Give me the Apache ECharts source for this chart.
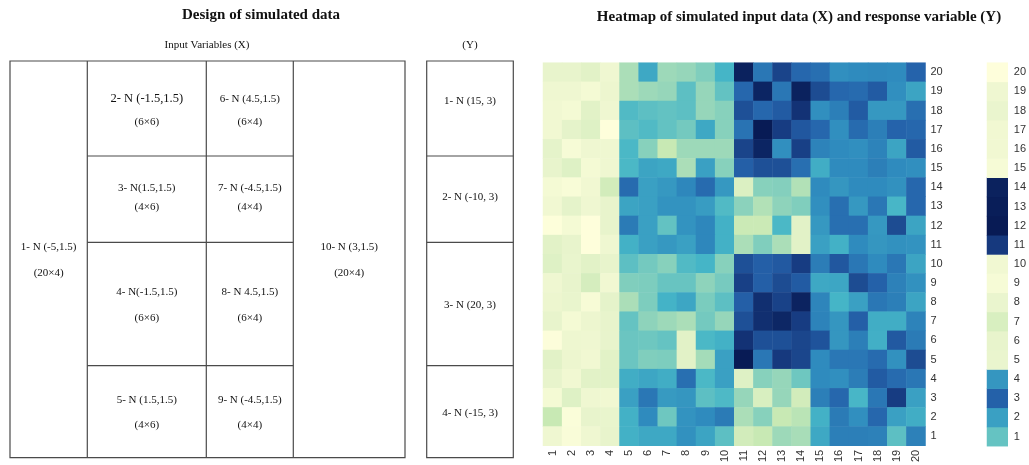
<!DOCTYPE html>
<html>
<head>
<meta charset="utf-8">
<script src="https://cdn.jsdelivr.net/npm/echarts@6/dist/echarts.min.js"></script>
<style>
html,body{margin:0;padding:0;background:#fff;}
#chart{width:1029px;height:465px;}
</style>
</head>
<body>
<div id="chart"></div>
<script>
// ---- DATA ----
var xCategories = ['1','2','3','4','5','6','7','8','9','10','11','12','13','14','15','16','17','18','19','20'];
var yCategories = ['1','2','3','4','5','6','7','8','9','10','11','12','13','14','15','16','17','18','19','20'];
// colour level (0 = palest, 8 = darkest) read from each cell; rows listed from row 20 (top) down to row 1
var row20 = [1.0,1.0,1.2,0.7,2.4,4.3,2.6,2.7,3.0,4.0, 7.8,5.5,6.8,5.9,5.7,4.9,5.0,5.05,5.0,6.0];
var row19 = [0.7,0.7,0.5,0.8,2.4,2.6,2.7,3.6,2.7,3.5, 5.9,7.7,5.5,7.8,6.6,5.9,5.8,6.2,4.9,4.4];
var row18 = [0.6,0.5,1.2,0.7,3.8,3.6,3.5,3.6,2.7,2.9, 6.5,5.9,6.2,7.3,4.9,5.3,6.2,4.7,4.7,5.7];
var row17 = [0.6,1.1,1.3,0.05,3.6,3.8,3.5,3.2,4.3,2.9, 5.6,8.0,7.0,6.3,5.9,4.9,5.8,5.3,6.0,5.9];
var row16 = [1.1,0.4,0.7,0.7,3.9,2.9,2.0,2.6,2.6,2.6, 6.8,7.7,4.9,6.9,5.2,5.0,4.9,5.2,4.4,6.2];
var row15 = [1.0,1.3,0.5,0.7,3.9,4.4,4.3,2.4,4.5,2.9, 6.1,6.5,6.5,5.7,4.2,5.0,5.0,5.3,5.0,4.9];
var row14 = [0.5,0.3,0.6,1.7,5.8,4.5,4.7,5.1,5.8,4.7, 1.4,2.9,2.95,2.3,5.0,4.75,5.0,5.0,4.85,5.9];
var row13 = [0.6,1.1,0.7,1.0,4.4,4.5,4.8,4.8,4.6,3.8, 2.85,2.3,2.8,3.0,4.9,5.7,4.7,5.5,3.95,5.9];
var row12 = [0.1,0.5,0.05,1.0,5.4,4.5,3.5,4.8,5.1,4.1, 1.9,1.9,3.9,1.2,4.7,5.7,5.7,4.7,6.6,4.4];
var row11 = [1.2,1.0,0.05,0.7,4.1,4.5,4.7,4.5,5.1,4.1, 2.4,3.0,2.4,1.2,4.5,4.1,5.0,4.75,4.85,4.8];
var row10 = [1.3,0.95,1.2,1.0,3.6,3.2,2.9,3.8,4.0,2.9, 6.5,6.1,6.25,7.0,5.35,6.3,5.5,5.0,5.5,4.4];
var row9  = [0.7,1.0,1.6,0.6,3.0,3.05,3.4,3.4,2.8,3.15, 6.9,6.1,6.6,6.2,4.3,4.35,6.6,6.05,5.25,4.85];
var row8  = [0.8,0.95,0.35,1.1,2.4,3.05,4.05,4.35,3.1,3.6, 6.1,7.4,6.85,7.75,5.15,4.0,4.5,5.5,5.3,4.4];
var row7  = [1.0,0.5,0.8,1.0,3.45,2.8,2.6,2.4,3.2,2.7, 6.5,7.4,7.65,7.0,5.2,4.75,6.1,4.2,4.2,5.2];
var row6  = [0.15,0.75,0.7,1.0,3.35,3.3,3.45,1.2,3.9,4.1, 7.3,6.5,6.5,6.75,6.4,4.75,5.3,4.15,6.25,5.4];
var row5  = [1.2,0.8,0.6,1.2,3.35,3.0,3.05,1.2,2.5,4.5, 8.0,5.5,7.1,6.75,5.0,5.5,5.5,5.8,4.85,6.6];
var row4  = [1.0,0.6,1.2,1.2,4.2,4.35,4.2,5.7,3.9,4.5, 1.3,2.9,2.7,3.3,5.0,4.9,5.35,6.2,5.8,5.5];
var row3  = [0.5,1.3,0.7,0.6,4.5,5.5,4.65,4.75,3.6,3.85, 2.7,1.5,2.7,1.7,5.3,5.9,3.95,5.5,7.0,4.5];
var row2  = [2.0,0.2,1.0,0.95,4.1,5.0,3.3,4.8,5.0,5.4, 2.4,2.9,2.0,2.2,4.1,5.4,4.9,5.9,4.5,4.2];
var row1  = [0.7,0.25,0.7,1.0,4.1,4.3,4.3,4.85,4.4,3.6, 1.7,2.0,2.6,2.45,4.3,5.3,5.3,5.25,3.6,5.25];
// response variable (Y) column, rows 1..20
var responseLevels = [3.45,4.5,6.05,4.75,0.9,1.0,1.5,0.9,0.4,0.6,7.1,8.0,7.9,7.8,0.4,0.6,0.6,0.9,0.7,0.05];
var paletteColors = ['#ffffdc','#e8f4cc','#c8e9b4','#80cebd','#45b5c7','#2f8bbe','#2563ab','#173c82','#081b55'];

var designTitle = 'Design of simulated data';
var heatTitle = 'Heatmap of simulated input data (X) and response variable (Y)';
var inputLabel = 'Input Variables (X)';
var responseLabel = '(Y)';
var blockNames = ['1- N (-5,1.5)','2- N (-1.5,1.5)','3- N(1.5,1.5)','4- N(-1.5,1.5)','5- N (1.5,1.5)','6- N (4.5,1.5)','7- N (-4.5,1.5)','8- N 4.5,1.5)','9- N (-4.5,1.5)','10- N (3,1.5)'];
var blockSizes = ['(20×4)','(6×6)','(4×6)','(6×6)','(4×6)','(6×4)','(4×4)','(6×4)','(4×4)','(20×4)'];
var responseNames = ['1- N (15, 3)','2- N (-10, 3)','3- N (20, 3)','4- N (-15, 3)'];

// ---- BUILD ----
var rowsTopDown = [row20,row19,row18,row17,row16,row15,row14,row13,row12,row11,row10,row9,row8,row7,row6,row5,row4,row3,row2,row1];
var heatData = [];
rowsTopDown.forEach(function(row, i){
  var yi = 19 - i;
  row.forEach(function(v, xi){ heatData.push([xi, yi, v]); });
});
var respData = responseLevels.map(function(v, i){ return [0, i, v]; });

var serif = '"Liberation Serif","Times New Roman",serif';
var stroke = '#4a4a4a';
function txt(x, y, s, size, bold){
  return {type:'text', x:x, y:y, silent:true,
    style:{text:s, font:(bold?'bold ':'')+size+'px '+serif, fill:'#111',
      textAlign:'center', textVerticalAlign:'middle', align:'center', verticalAlign:'middle'}};
}
function ln(x1,y1,x2,y2){
  return {type:'line', silent:true, shape:{x1:x1,y1:y1,x2:x2,y2:y2}, style:{stroke:stroke, lineWidth:1.2}};
}
var L = 10, R = 405, T = 61, B = 457.7;
var c1 = 87.3, c2 = 206.3, c3 = 293.3;
var h1 = 156, h2 = 242.3, h3 = 365.7;
var yl = 426.7, yr = 513.3;
var graphics = [
  txt(261, 15, designTitle, 15, true),
  txt(799, 17, heatTitle, 15, true),
  txt(207, 45, inputLabel, 11),
  txt(470, 45, responseLabel, 11),
  {type:'rect', silent:true, shape:{x:L,y:T,width:R-L,height:B-T}, style:{fill:'none', stroke:stroke, lineWidth:1.2}},
  ln(c1,T,c1,B), ln(c2,T,c2,B), ln(c3,T,c3,B),
  ln(c1,h1,c3,h1), ln(c1,h2,c3,h2), ln(c1,h3,c3,h3),
  {type:'rect', silent:true, shape:{x:yl,y:T,width:yr-yl,height:B-T}, style:{fill:'none', stroke:stroke, lineWidth:1.2}},
  ln(yl,h1,yr,h1), ln(yl,h2,yr,h2), ln(yl,h3,yr,h3),
  // block 1 and 10
  txt((L+c1)/2, 247.3, blockNames[0], 11), txt((L+c1)/2, 273.3, blockSizes[0], 11),
  txt((c3+R)/2, 247.3, blockNames[9], 11), txt((c3+R)/2, 273.3, blockSizes[9], 11),
  // column 2-5
  txt((c1+c2)/2, 99, blockNames[1], 12.5), txt((c1+c2)/2, 121.7, blockSizes[1], 11),
  txt((c1+c2)/2, 188.3, blockNames[2], 11), txt((c1+c2)/2, 206.7, blockSizes[2], 11),
  txt((c1+c2)/2, 292.3, blockNames[3], 11), txt((c1+c2)/2, 317.7, blockSizes[3], 11),
  txt((c1+c2)/2, 400, blockNames[4], 11), txt((c1+c2)/2, 425, blockSizes[4], 11),
  // column 6-9
  txt((c2+c3)/2, 99, blockNames[5], 11), txt((c2+c3)/2, 121.7, blockSizes[5], 11),
  txt((c2+c3)/2, 188.3, blockNames[6], 11), txt((c2+c3)/2, 206.7, blockSizes[6], 11),
  txt((c2+c3)/2, 292.3, blockNames[7], 11), txt((c2+c3)/2, 317.7, blockSizes[7], 11),
  txt((c2+c3)/2, 400, blockNames[8], 11), txt((c2+c3)/2, 425, blockSizes[8], 11),
  // response
  txt((yl+yr)/2, 101, responseNames[0], 11),
  txt((yl+yr)/2, 196.7, responseNames[1], 11),
  txt((yl+yr)/2, 305, responseNames[2], 11),
  txt((yl+yr)/2, 413.3, responseNames[3], 11)
];

var labelStyle = {fontSize:11, color:'#333', fontFamily:'"Liberation Sans",Arial,sans-serif'};
var option = {
  animation:false,
  backgroundColor:'#fff',
  grid:[
    {left:543, top:62.7, width:382.5, height:383.5},
    {left:987, top:62.7, width:22, height:383.5}
  ],
  xAxis:[
    {type:'category', gridIndex:0, data:xCategories, position:'bottom',
      axisLine:{show:false}, axisTick:{show:false}, splitLine:{show:false},
      axisLabel:Object.assign({rotate:90, margin:4, interval:0}, labelStyle)},
    {type:'category', gridIndex:1, data:[''], axisLine:{show:false}, axisTick:{show:false}, axisLabel:{show:false}}
  ],
  yAxis:[
    {type:'category', gridIndex:0, data:yCategories, position:'right',
      axisLine:{show:false}, axisTick:{show:false}, splitLine:{show:false},
      axisLabel:Object.assign({margin:5, interval:0}, labelStyle)},
    {type:'category', gridIndex:1, data:yCategories, position:'right',
      axisLine:{show:false}, axisTick:{show:false}, splitLine:{show:false},
      axisLabel:Object.assign({margin:6, interval:0}, labelStyle)}
  ],
  visualMap:[{type:'continuous', show:false, min:0, max:8, dimension:2, seriesIndex:[0,1],
    inRange:{color:paletteColors}}],
  series:[
    {type:'heatmap', xAxisIndex:0, yAxisIndex:0, data:heatData, itemStyle:{borderWidth:0}},
    {type:'heatmap', xAxisIndex:1, yAxisIndex:1, data:respData, itemStyle:{borderWidth:0}}
  ],
  graphic:graphics
};
var chart = echarts.init(document.getElementById('chart'), null, {renderer:'canvas'});
chart.setOption(option);
</script>
</body>
</html>
